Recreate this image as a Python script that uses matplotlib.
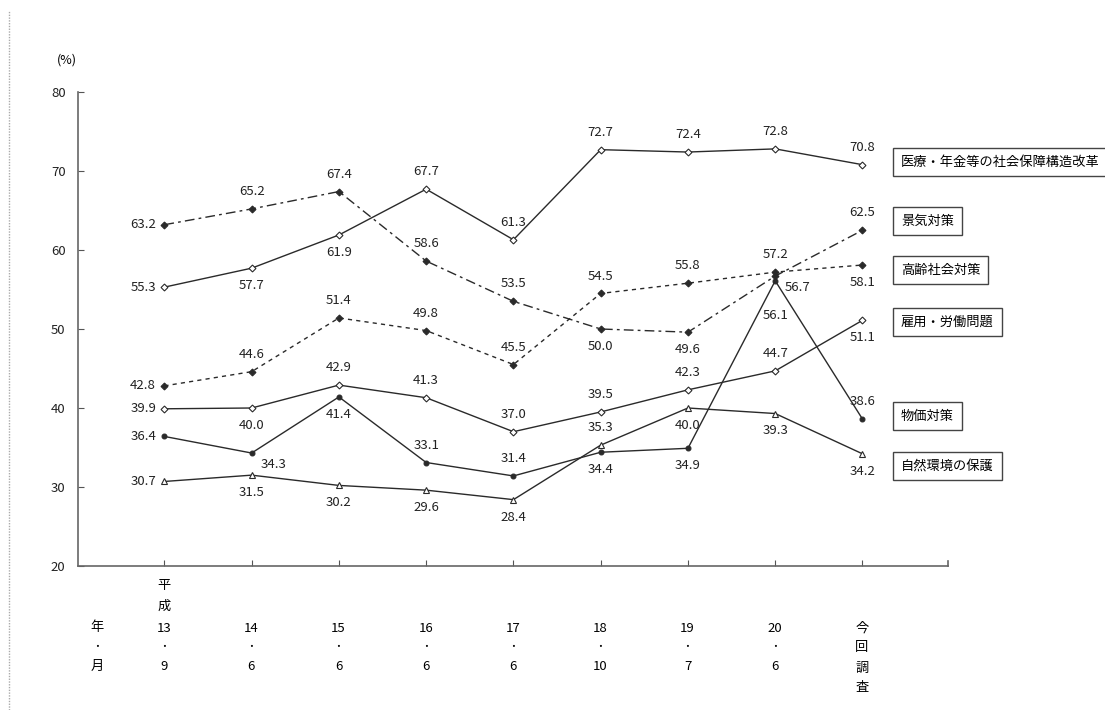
import matplotlib
matplotlib.use("Agg")
import matplotlib.pyplot as plt
from matplotlib.lines import Line2D

plt.rcParams['font.family'] = ['Noto Sans CJK JP', 'DejaVu Sans']

years = ['13', '14', '15', '16', '17', '18', '19', '20']
months = ['9', '6', '6', '6', '6', '10', '7', '6']

iryo = [55.3, 57.7, 61.9, 67.7, 61.3, 72.7, 72.4, 72.8, 70.8]
keiki = [63.2, 65.2, 67.4, 58.6, 53.5, 50.0, 49.6, 56.7, 62.5]
koureika = [42.8, 44.6, 51.4, 49.8, 45.5, 54.5, 55.8, 57.2, 58.1]
koyou = [39.9, 40.0, 42.9, 41.3, 37.0, 39.5, 42.3, 44.7, 51.1]
bukka = [36.4, 34.3, 41.4, 33.1, 31.4, 34.4, 34.9, 56.1, 38.6]
shizen = [30.7, 31.5, 30.2, 29.6, 28.4, 35.3, 40.0, 39.3, 34.2]

names = ['医療・年金等の社会保障構造改革', '景気対策', '高齢社会対策',
         '雇用・労働問題', '物価対策', '自然環境の保護']

# label placement per point: L=left, A=above, B=below, R=right-below, D=far below
pos_iryo = 'LBBAAAAAA'
pos_keiki = 'LAAAABBRA'
pos_koureika = 'LAAAAAAAB'
pos_koyou = 'LBAAAAAAB'
pos_bukka = 'LRBAABBDA'
pos_shizen = 'LBBBBABBB'

W, H = 1105, 710
fig = plt.figure(figsize=(W / 100, H / 100), dpi=100)
ax = fig.add_axes([78 / W, 1 - 566 / H, (948 - 78) / W, (566 - 92) / H])

x = list(range(9))
col = '#2a2a2a'
series = [
    (iryo, pos_iryo, dict(ls='-', marker='D', mfc='white', ms=3.5)),
    (keiki, pos_keiki, dict(ls=(0, (7, 3, 2, 3)), marker='D', mfc=col, ms=3.5)),
    (koureika, pos_koureika, dict(ls=(0, (3, 3)), marker='D', mfc=col, ms=3.5)),
    (koyou, pos_koyou, dict(ls='-', marker='D', mfc='white', ms=3.5)),
    (bukka, pos_bukka, dict(ls='-', marker='o', mfc=col, ms=3.5)),
    (shizen, pos_shizen, dict(ls='-', marker='^', mfc='white', ms=4.5)),
]

offsets = {'L': (-6, 0, 'right'),
           'A': (0, 12.5, 'center'),
           'B': (0, -12.5, 'center'),
           'R': (16, -8, 'center'),
           'D': (0, -25, 'center')}

for vals, pos, style in series:
    ax.plot(x, vals, color=col, lw=1, mec=col, mew=0.8, **style)
    for xi, v, p in zip(x, vals, pos):
        dx, dy, ha = offsets[p]
        ax.annotate(f'{v:.1f}', (xi, v), xytext=(dx, dy), textcoords='offset points',
                    ha=ha, va='center', fontsize=9.5, color='#222222')

ax.set_xlim(-0.99, 8.98)
ax.set_ylim(20, 80)
ax.set_yticks(range(20, 81, 10))
ax.set_xticks(x)
ax.set_xticklabels([])
ax.tick_params(direction='in', length=4, colors='#555555', labelcolor='#222222',
               labelsize=9.5)
ax.tick_params(axis='y', pad=9)
for side in ['top', 'right']:
    ax.spines[side].set_visible(False)
for side in ['left', 'bottom']:
    ax.spines[side].set_color('#666666')
    ax.spines[side].set_linewidth(1.2)
# short end tick at right of x axis
ax.plot([8.98, 8.98], [20, 20.6], color='#666666', lw=1.2, clip_on=False)

fig.text(67 / W, 1 - 60 / H, '(%)', ha='center', va='center', fontsize=9)

# category labels below the axis, stacked vertically
def row(px):
    return 1 - px / H

xpix = [164 + i * 87.25 for i in range(9)]
for i, (yr, mo) in enumerate(zip(years, months)):
    xf = xpix[i] / W
    fig.text(xf, row(628), yr, ha='center', va='center', fontsize=9.5)
    fig.text(xf, row(647), '・', ha='center', va='center', fontsize=7)
    fig.text(xf, row(666), mo, ha='center', va='center', fontsize=9.5)
fig.text(xpix[0] / W, row(586), '平', ha='center', va='center', fontsize=9.5)
fig.text(xpix[0] / W, row(606), '成', ha='center', va='center', fontsize=9.5)
for k, ch in enumerate('今回調査'):
    fig.text(xpix[8] / W, row(628 + 20 * k), ch, ha='center', va='center', fontsize=9.5)
fig.text(97 / W, row(628), '年', ha='center', va='center', fontsize=9.5)
fig.text(97 / W, row(647), '・', ha='center', va='center', fontsize=7)
fig.text(97 / W, row(666), '月', ha='center', va='center', fontsize=9.5)

# series name boxes on the right
box_y = [162, 221, 270, 322, 416, 466]
for name, yy in zip(names, box_y):
    fig.text(901 / W, row(yy), name, ha='left', va='center', fontsize=9.5,
             bbox=dict(boxstyle='square,pad=0.6', fc='white', ec='#444444', lw=1))

# dotted margin line on the far left
fig.add_artist(Line2D([9 / W, 9 / W], [0, 1 - 10 / H], transform=fig.transFigure,
                      color='#aaaaaa', lw=1, ls=(0, (1, 1))))

fig.savefig('out.png', dpi=100)
